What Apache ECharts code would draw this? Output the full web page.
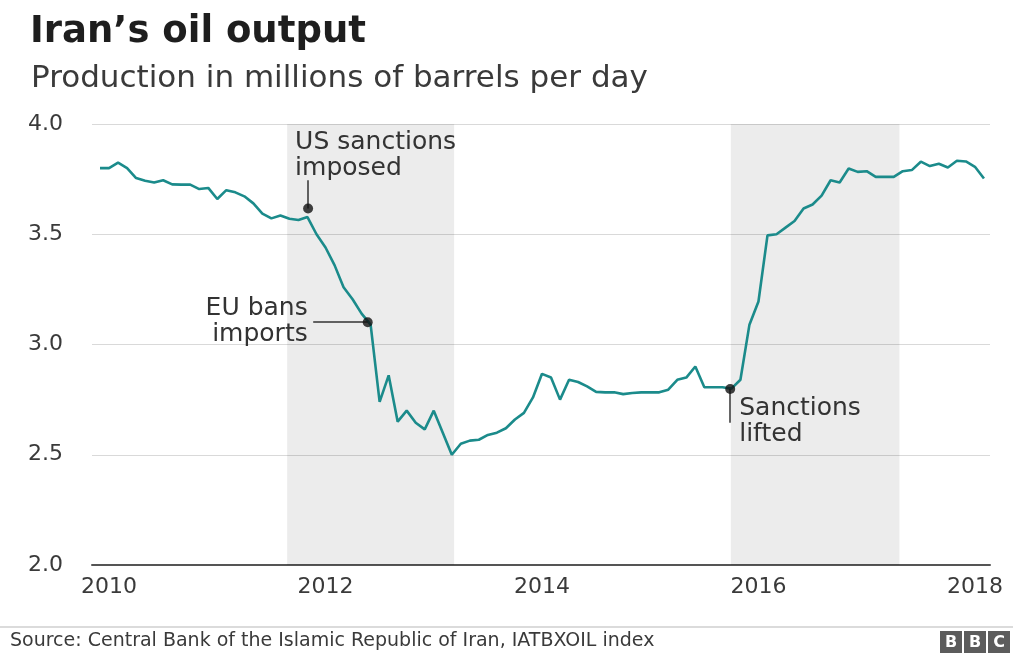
<!DOCTYPE html>
<html>
<head>
<meta charset="utf-8">
<title>Iran's oil output</title>
<script src="https://cdn.jsdelivr.net/npm/echarts@6/dist/echarts.min.js"></script>
<style>
  html, body { margin: 0; padding: 0; background: #fff; }
  #chart { width: 1013px; height: 653px; }
</style>
</head>
<body>
<div id="chart"></div>
<script>
// ── Data ──────────────────────────────────────────────────────────────────────
// Monthly output, millions of barrels per day, Dec 2009 to Feb 2018.

const firstMonth = '2009-12';

const output = [
  3.80, 3.80, 3.825, 3.80, 3.755, 3.743, 3.735, 3.745, 3.726, 3.725,
  3.725, 3.705, 3.71, 3.66, 3.70, 3.69, 3.672, 3.64, 3.594, 3.572,
  3.585, 3.57, 3.565, 3.578, 3.50, 3.44, 3.36, 3.26, 3.205, 3.14,
  3.09, 2.74, 2.86, 2.65, 2.70, 2.645, 2.615, 2.70, 2.60, 2.50,
  2.55, 2.564, 2.568, 2.59, 2.60, 2.62, 2.66, 2.69, 2.76, 2.867,
  2.85, 2.75, 2.84, 2.83, 2.81, 2.785, 2.783, 2.783, 2.775, 2.78,
  2.783, 2.783, 2.783, 2.795, 2.84, 2.85, 2.90, 2.806, 2.806, 2.806,
  2.80, 2.84, 3.09, 3.195, 3.495, 3.50, 3.53, 3.56, 3.617, 3.635,
  3.675, 3.745, 3.735, 3.798, 3.783, 3.786, 3.76, 3.76, 3.76, 3.786,
  3.791, 3.829, 3.809, 3.82, 3.803, 3.833, 3.83, 3.806, 3.753,
];

const yearLabels = [2010, 2012, 2014, 2016, 2018];

// shaded sanction periods
const bandStarts = ['2011-08-24', '2015-09-29'];
const bandEnds   = ['2013-03-09', '2017-04-20'];

// annotations: dot position, leader end, text
const noteDates  = ['2011-11-03', '2012-05-22', '2015-09-27'];
const noteValues = [3.617, 3.101, 2.798];
const noteTexts  = ['US sanctions\nimposed', 'EU bans\nimports', 'Sanctions\nlifted'];
const leaderEnds = [
  ['2011-11-03', 3.745],
  ['2011-11-20', 3.101],
  ['2015-09-27', 2.645],
];

// ── Helpers ──────────────────────────────────────────────────────────────────
// x axis runs in months counted from firstMonth (fractional for mid-month days)

const [y0, m0] = firstMonth.split('-').map(Number);

function monthPos(dateStr) {
  const [y, m, d] = dateStr.split('-').map(Number);
  const days = new Date(y, m, 0).getDate();
  return (y - y0) * 12 + (m - m0) + ((d || 1) - 1) / days;
}

function yearOf(pos) {
  return y0 + Math.floor((m0 - 1 + pos) / 12);
}

const lineData = output.map((v, i) => [i, v]);

const FONT = '"DejaVu Sans", "Liberation Sans", Arial, sans-serif';
const TEXT = '#3a3a3a';

// label placement for each note, relative to its dot
const noteLabels = [
  { align: 'left',  verticalAlign: 'bottom', offset: [-13, -27] },
  { align: 'right', verticalAlign: 'middle', offset: [-60, -1] },
  { align: 'left',  verticalAlign: 'top',    offset: [9, 6] },
];

const noteData = noteDates.map((d, i) => ({
  value: [monthPos(d), noteValues[i]],
  label: Object.assign({
    show: true,
    position: 'inside',
    formatter: noteTexts[i],
    fontFamily: FONT,
    fontSize: 25,
    lineHeight: 26,
    color: '#333',
    textBorderWidth: 0,
    opacity: 1,
  }, noteLabels[i]),
}));

const leaderData = noteDates.map((d, i) => [
  { coord: [monthPos(d), noteValues[i]] },
  { coord: [monthPos(leaderEnds[i][0]), leaderEnds[i][1]] },
]);

// ── Chart ─────────────────────────────────────────────────────────────────────

const chart = echarts.init(document.getElementById('chart'), null, { renderer: 'canvas' });

chart.setOption({
  animation: false,
  backgroundColor: '#fff',
  title: [
    {
      text: 'Iran\u2019s oil output',
      left: 25, top: 9,
      textStyle: { fontFamily: FONT, fontSize: 37, fontWeight: 'bold', color: '#1e1e1e' },
    },
    {
      text: 'Production in millions of barrels per day',
      left: 26, top: 58,
      textStyle: { fontFamily: FONT, fontSize: 31, fontWeight: 'normal', color: TEXT },
    },
  ],
  grid: { left: 92, right: 23, top: 124, bottom: 88, containLabel: false },
  xAxis: {
    type: 'value',
    min: -0.89,
    max: 98.67,
    axisLine: { onZero: false, lineStyle: { color: '#555', width: 2 } },
    axisTick: { show: false },
    splitLine: { show: false },
    axisLabel: {
      customValues: yearLabels.map(y => monthPos(y + '-01-01')),
      formatter: v => String(yearOf(v)),
      fontFamily: FONT, fontSize: 22, color: TEXT, margin: 11,
    },
  },
  yAxis: {
    type: 'value',
    min: 2, max: 4, interval: 0.5,
    axisLine: { show: false },
    axisTick: { show: false },
    splitLine: { lineStyle: { color: '#d9d9d9', width: 1 } },
    axisLabel: {
      formatter: v => v.toFixed(1),
      fontFamily: FONT, fontSize: 22, color: TEXT, margin: 29,
    },
  },
  series: [
    {
      type: 'line',
      data: lineData,
      showSymbol: false,
      lineStyle: { color: '#1b8b8b', width: 2.6 },
      z: 3,
      markArea: {
        silent: true,
        itemStyle: { color: 'rgba(0,0,0,0.075)' },
        data: bandStarts.map((s, i) => [{ xAxis: monthPos(s) }, { xAxis: monthPos(bandEnds[i]) }]),
      },
    },
    {
      type: 'scatter',
      data: noteData,
      symbolSize: 10,
      itemStyle: { color: '#111' },
      z: 5,
      markLine: {
        silent: true,
        symbol: 'none',
        label: { show: false },
        lineStyle: { color: '#333', width: 1.5, type: 'solid' },
        data: leaderData,
      },
    },
  ],
  graphic: [
    {
      type: 'line',
      shape: { x1: 0, y1: 627, x2: 1013, y2: 627 },
      style: { stroke: '#cfcfcf', lineWidth: 1.5 },
    },
    {
      type: 'text',
      x: 10, y: 641,
      style: {
        text: 'Source: Central Bank of the Islamic Republic of Iran, IATBXOIL index',
        font: '19px ' + FONT, fill: TEXT, verticalAlign: 'middle',
      },
    },
    {
      type: 'group',
      x: 940, y: 631,
      children: ['B', 'B', 'C'].flatMap((ch, i) => [
        { type: 'rect', shape: { x: i * 24, y: 0, width: 22, height: 22 }, style: { fill: '#5c5c5c' } },
        {
          type: 'text', x: i * 24 + 11, y: 11.5,
          style: { text: ch, font: 'bold 16px ' + FONT, fill: '#fff', align: 'center', verticalAlign: 'middle' },
        },
      ]),
    },
  ],
});
</script>
</body>
</html>
